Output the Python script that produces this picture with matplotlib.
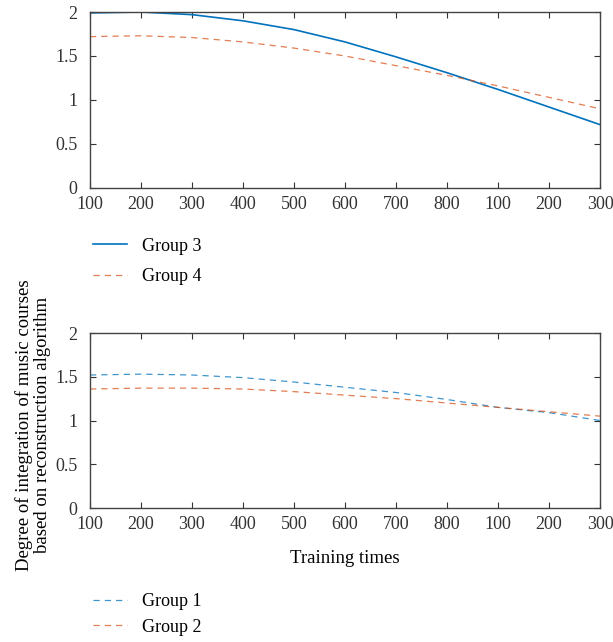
import matplotlib.pyplot as plt

plt.rcParams['font.family'] = ['Liberation Serif', 'DejaVu Serif']

# x tick labels (training times)
tick_labels = ['100', '200', '300', '400', '500', '600', '700', '800', '100', '200', '300']
x_pos = list(range(len(tick_labels)))

# top panel
group3 = [1.99, 2.00, 1.97, 1.90, 1.80, 1.66, 1.49, 1.31, 1.12, 0.92, 0.72]
group4 = [1.72, 1.73, 1.71, 1.66, 1.59, 1.50, 1.39, 1.28, 1.16, 1.03, 0.90]

# bottom panel
group1 = [1.52, 1.53, 1.52, 1.49, 1.44, 1.38, 1.32, 1.24, 1.15, 1.09, 1.00]
group2 = [1.36, 1.37, 1.37, 1.36, 1.33, 1.29, 1.25, 1.20, 1.15, 1.10, 1.05]

blue = '#0072BD'
orange = '#D95319'


def style_axes(ax):
    ax.set_xlim(0, len(tick_labels) - 1)
    ax.set_ylim(0, 2)
    ax.set_xticks(x_pos)
    ax.set_xticklabels(tick_labels)
    ax.set_yticks([0, 0.5, 1, 1.5, 2])
    ax.set_yticklabels(['0', '0.5', '1', '1.5', '2'])
    ax.tick_params(direction='in', top=True, right=True, labelsize=13,
                   length=4, width=0.8, colors='#333333')
    ax.tick_params(axis='y', pad=9)
    ax.tick_params(axis='x', pad=6)
    for sp in ax.spines.values():
        sp.set_color('#444444')
        sp.set_linewidth(1.0)


fig = plt.figure(figsize=(6.13, 6.42), dpi=100)

ax1 = fig.add_axes([0.1468, 0.7072, 0.832, 0.2741])
ax1.plot(x_pos, group3, color=blue, lw=1.2, label='Group 3')
ax1.plot(x_pos, group4, color=orange, lw=0.9, ls=(0, (5, 4)), alpha=0.75, label='Group 4')
style_axes(ax1)
ax1.legend(loc='upper left', bbox_to_anchor=(-0.026, -0.19), frameon=False,
           fontsize=13, handlelength=1.9, labelspacing=0.75, handletextpad=0.8)

ax2 = fig.add_axes([0.1468, 0.2087, 0.832, 0.2726])
ax2.plot(x_pos, group1, color=blue, lw=0.9, ls=(0, (5, 4)), alpha=0.75, label='Group 1')
ax2.plot(x_pos, group2, color=orange, lw=0.9, ls=(0, (5, 4)), alpha=0.75, label='Group 2')
style_axes(ax2)
ax2.set_xlabel('Training times', fontsize=13.5, labelpad=12)
ax2.legend(loc='upper left', bbox_to_anchor=(-0.026, -0.395), frameon=False,
           fontsize=13, handlelength=1.9, labelspacing=0.45, handletextpad=0.8)

fig.text(0.054, 0.338, 'Degree of integration of music courses\nbased on reconstruction algorithm',
         rotation=90, ha='center', va='center', fontsize=13.5, linespacing=1.05)

fig.savefig('out.png', dpi=100)
